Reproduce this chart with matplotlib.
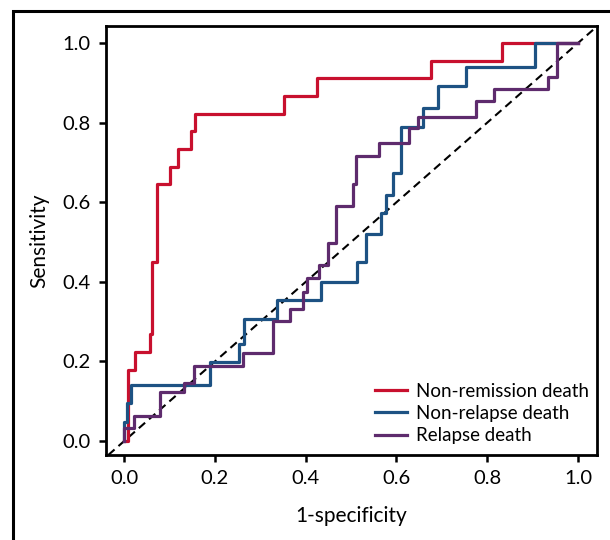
import matplotlib.pyplot as plt
from matplotlib.patches import Rectangle

plt.rcParams['font.family'] = ['Lato', 'DejaVu Sans']

# ROC corner points (1-specificity, sensitivity)
nonremission_fpr = [0, 0.008, 0.023, 0.056, 0.061, 0.073, 0.100, 0.118, 0.147, 0.156,
                    0.352, 0.424, 0.676, 0.832, 1.0]
nonremission_tpr = [0, 0.178, 0.224, 0.268, 0.450, 0.645, 0.689, 0.734, 0.779, 0.823,
                    0.868, 0.912, 0.955, 1.0, 1.0]

nonrelapse_fpr = [0, 0.0, 0.007, 0.015, 0.189, 0.254, 0.264, 0.336, 0.433, 0.512, 0.532,
                  0.566, 0.577, 0.593, 0.609, 0.658, 0.692, 0.753, 0.905, 1.0]
nonrelapse_tpr = [0, 0.049, 0.095, 0.142, 0.199, 0.245, 0.306, 0.354, 0.400, 0.449, 0.520,
                  0.572, 0.618, 0.673, 0.790, 0.836, 0.892, 0.939, 1.0, 1.0]

relapse_fpr = [0, 0.0, 0.021, 0.079, 0.132, 0.153, 0.261, 0.327, 0.366, 0.394, 0.404, 0.430,
               0.449, 0.466, 0.504, 0.511, 0.562, 0.628, 0.648, 0.775, 0.815, 0.933, 0.953, 1.0]
relapse_tpr = [0, 0.034, 0.063, 0.124, 0.146, 0.188, 0.222, 0.302, 0.333, 0.375, 0.411, 0.442,
               0.498, 0.591, 0.645, 0.716, 0.748, 0.786, 0.815, 0.855, 0.884, 0.914, 1.0, 1.0]

labels = ['Non-remission death', 'Non-relapse death', 'Relapse death']
colors = ['#C8102E', '#1D5283', '#5E2B6D']
ticks = [0.0, 0.2, 0.4, 0.6, 0.8, 1.0]

fig = plt.figure(figsize=(6.1, 5.4), dpi=100)
ax = fig.add_axes([0.1738, 0.1574, 0.8049, 0.7945])

# outer frame of the figure panel
fig.patches.append(Rectangle((0.0213, -0.2), 1.2, 1.1796, transform=fig.transFigure,
                             fill=False, edgecolor='black', linewidth=2.2, clip_on=False))

ax.axline((0, 0), (1, 1), color='black', linestyle=(0, (4, 2.5)), linewidth=1.5)

curves = [(nonremission_fpr, nonremission_tpr), (nonrelapse_fpr, nonrelapse_tpr),
          (relapse_fpr, relapse_tpr)]
for (fpr, tpr), lab, col in zip(curves, labels, colors):
    ax.plot(fpr, tpr, drawstyle='steps-post', color=col, linewidth=2.3, label=lab)

ax.set_xlim(-0.04, 1.042)
ax.set_ylim(-0.035, 1.043)
ax.set_xticks(ticks)
ax.set_yticks(ticks)
ax.set_xticklabels([f'{t:.1f}' for t in ticks])
ax.set_yticklabels([f'{t:.1f}' for t in ticks])
ax.tick_params(direction='out', length=5, width=1.8, labelsize=14.5, pad=6)

for s in ax.spines.values():
    s.set_linewidth(2)

ax.set_xlabel('1-specificity', fontsize=15)
ax.set_ylabel('Sensitivity', fontsize=15)
ax.xaxis.set_label_coords(0.5, -0.118)
ax.yaxis.set_label_coords(-0.116, 0.5)

ax.legend(loc='lower right', bbox_to_anchor=(0.998, 0.008), frameon=False, fontsize=13.5,
          handlelength=1.7, handletextpad=0.45, labelspacing=0.28, borderaxespad=0)

fig.savefig('out.png', dpi=100)
